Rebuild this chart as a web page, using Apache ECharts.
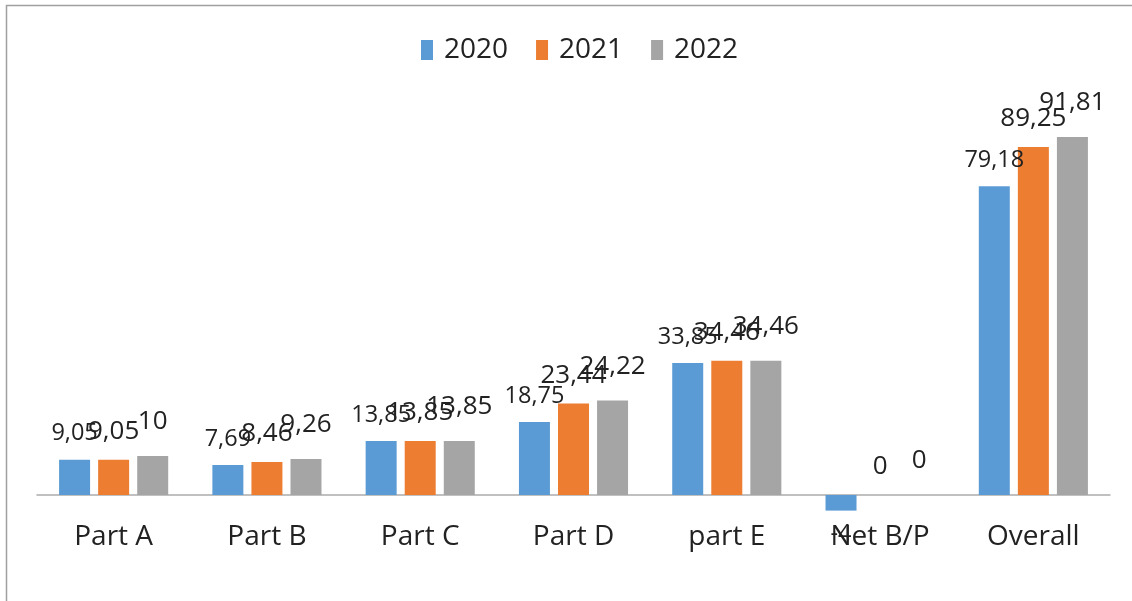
<!DOCTYPE html>
<html>
<head>
<meta charset="utf-8">
<script src="https://cdn.jsdelivr.net/npm/echarts@6/dist/echarts.min.js"></script>
<style>
html,body{margin:0;padding:0;background:#fff;}
#chart{width:1132px;height:601px;}
</style>
</head>
<body>
<div id="chart"></div>
<script>
const categories = ['Part A', 'Part B', 'Part C', 'Part D', 'part E', 'Net B/P', 'Overall'];
const seriesNames = ['2020', '2021', '2022'];
const values2020 = [9.05, 7.69, 13.85, 18.75, 33.85, -4, 79.18];
const values2021 = [9.05, 8.46, 13.85, 23.44, 34.46, 0, 89.25];
const values2022 = [10, 9.26, 13.85, 24.22, 34.46, 0, 91.81];

const colors = ['#5B9BD5', '#ED7D31', '#A5A5A5'];
const labelSizes = [23.5, 26, 26];
const labelDist = [14, 15, 21];
const font = '"Open Sans", "Noto Sans", sans-serif';

function fmt(v) { return String(v).replace('.', ','); }

function buildData(vals) {
  return vals.map(v => v < 0
    ? { value: v, label: { position: 'bottom', distance: 12 } }
    : { value: v });
}

const allVals = [values2020, values2021, values2022];

const chart = echarts.init(document.getElementById('chart'));
chart.setOption({
  animation: false,
  backgroundColor: '#fff',
  color: colors,
  textStyle: { fontFamily: font },
  graphic: [{
    type: 'rect',
    shape: { x: 6.5, y: 5.5, width: 1300, height: 800 },
    style: { fill: 'none', stroke: '#a0a0a0', lineWidth: 1.5 },
    silent: true
  }],
  legend: {
    data: seriesNames,
    left: 416,
    top: 31,
    itemWidth: 12,
    itemHeight: 20,
    itemGap: 28,
    icon: 'rect',
    textStyle: { fontFamily: font, fontSize: 28, color: '#222', padding: [0, 0, 0, 6] }
  },
  grid: { left: 37, right: 22, top: 105.1, bottom: 86.5, containLabel: false },
  xAxis: {
    type: 'category',
    data: categories,
    axisLine: { onZero: true, lineStyle: { color: '#acacac', width: 1.5 } },
    axisTick: { show: false },
    axisLabel: { fontFamily: font, fontSize: 28, color: '#222', margin: 9 },
    splitLine: { show: false }
  },
  yAxis: {
    type: 'value',
    min: -5,
    max: 100,
    show: false,
    splitLine: { show: false }
  },
  series: seriesNames.map((name, i) => ({
    name: name,
    type: 'bar',
    barWidth: 31,
    barGap: '26%',
    data: buildData(allVals[i]),
    itemStyle: { color: colors[i] },
    label: {
      show: true,
      position: 'top',
      distance: labelDist[i],
      fontFamily: font,
      fontSize: labelSizes[i],
      color: '#222',
      formatter: p => fmt(p.value)
    }
  }))
});
</script>
</body>
</html>
